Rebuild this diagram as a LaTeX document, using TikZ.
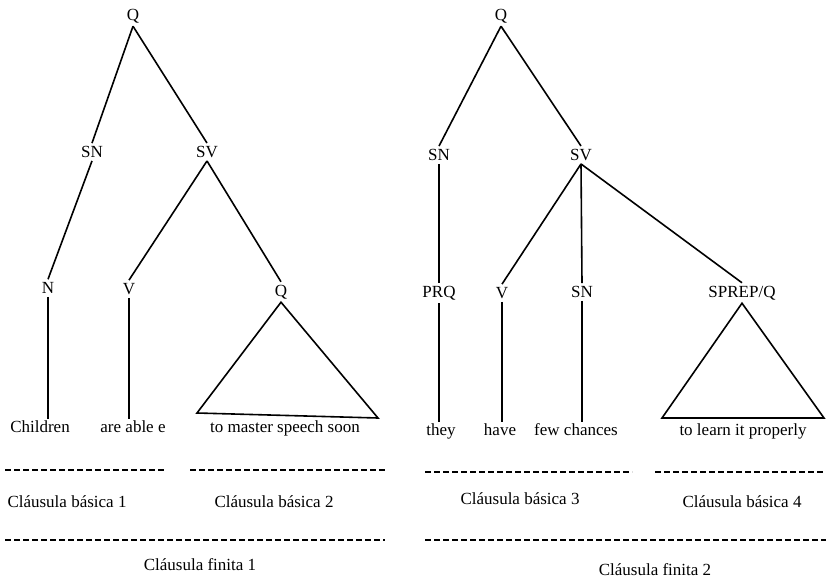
\documentclass[tikz,border=0pt]{standalone}
\usepackage{fontspec}
\setmainfont{Liberation Serif}
\usepackage{tikz}
\usetikzlibrary{calc,positioning}

\begin{document}
\begin{tikzpicture}[x=1pt,y=-1pt,font=\fontsize{17}{20}\selectfont,
  cat/.style={inner sep=3pt},
  word/.style={inner sep=2pt,text height=11pt,text depth=3pt},
  branch/.style={line width=1.6pt},
  cut/.style={line width=1.1pt,dash pattern=on 6pt off 3pt}]
\useasboundingbox (0,0) rectangle (826,578);
% left tree
\node[cat] (q1) at (133,16) {Q};
\node[cat] (snA) at (92,152) {SN};
\node[cat] (svA) at (207,152) {SV};
\node[cat] (nA) at (48,288) {N};
\node[cat] (vA) at (129,289) {V};
\node[cat] (qA) at (281,292) {Q};
\node[word] (w1) at (40,428) {Children};
\node[word] (w2) at (133,428) {are able e};
\node[word] (w3) at (285,428) {to master speech soon};
\coordinate (tA1) at (197,413);
\coordinate (tA2) at (378,418);
\draw[branch] (q1.south) -- (snA.north);
\draw[branch] (q1.south) -- (svA.north);
\draw[branch] (snA.south) -- (nA.north);
\draw[branch] (svA.south) -- (vA.north);
\draw[branch] (svA.south) -- (qA.north);
\draw[branch] (nA.south) -- (nA.south |- w1.north);
\draw[branch] (vA.south) -- (vA.south |- w2.north);
\draw[branch] (qA.south) -- (tA1) -- (tA2) -- cycle;
% right tree
\node[cat] (q2) at (501,16) {Q};
\node[cat] (snB) at (439,155) {SN};
\node[cat] (svB) at (581,155) {SV};
\node[cat] (prqB) at (439,293) {PRQ};
\node[cat] (vB) at (502,293) {V};
\node[cat] (snC) at (582,292) {SN};
\node[cat] (sprepB) at (742,293) {SPREP/Q};
\node[word] (w4) at (441,431) {they};
\node[word] (w5) at (500,431) {have};
\node[word] (w6) at (576,431) {few chances};
\node[word] (w7) at (743,431) {to learn it properly};
\coordinate (tB1) at (662,418);
\coordinate (tB2) at (824,418);
\draw[branch] (q2.south) -- (snB.north);
\draw[branch] (q2.south) -- (svB.north);
\draw[branch] (snB.south) -- (prqB.north);
\draw[branch] (svB.south) -- (vB.north);
\draw[branch] (svB.south) -- (snC.north);
\draw[branch] (svB.south) -- (sprepB.north);
\draw[branch] (prqB.south) -- (prqB.south |- w4.north);
\draw[branch] (vB.south) -- (vB.south |- w5.north);
\draw[branch] (snC.south) -- (snC.south |- w6.north);
\draw[branch] (sprepB.south) -- (tB1) -- (tB2) -- cycle;
% clause brackets
\draw[cut] (5,470) -- (165,470);
\draw[cut] (190,470) -- (385,470);
\draw[cut] (5,540) -- (385,540);
\draw[cut] (425,472) -- (632,472);
\draw[cut] (655,472) -- (826,472);
\draw[cut] (425,540) -- (826,540);
\node (cb1) at (67,502) {Cláusula básica 1};
\node (cb2) at (274,502) {Cláusula básica 2};
\node (cf1) at (200,565) {Cláusula finita 1};
\node (cb3) at (520,499) {Cláusula básica 3};
\node (cb4) at (742,502) {Cláusula básica 4};
\node (cf2) at (655,570) {Cláusula finita 2};
\end{tikzpicture}
\end{document}
